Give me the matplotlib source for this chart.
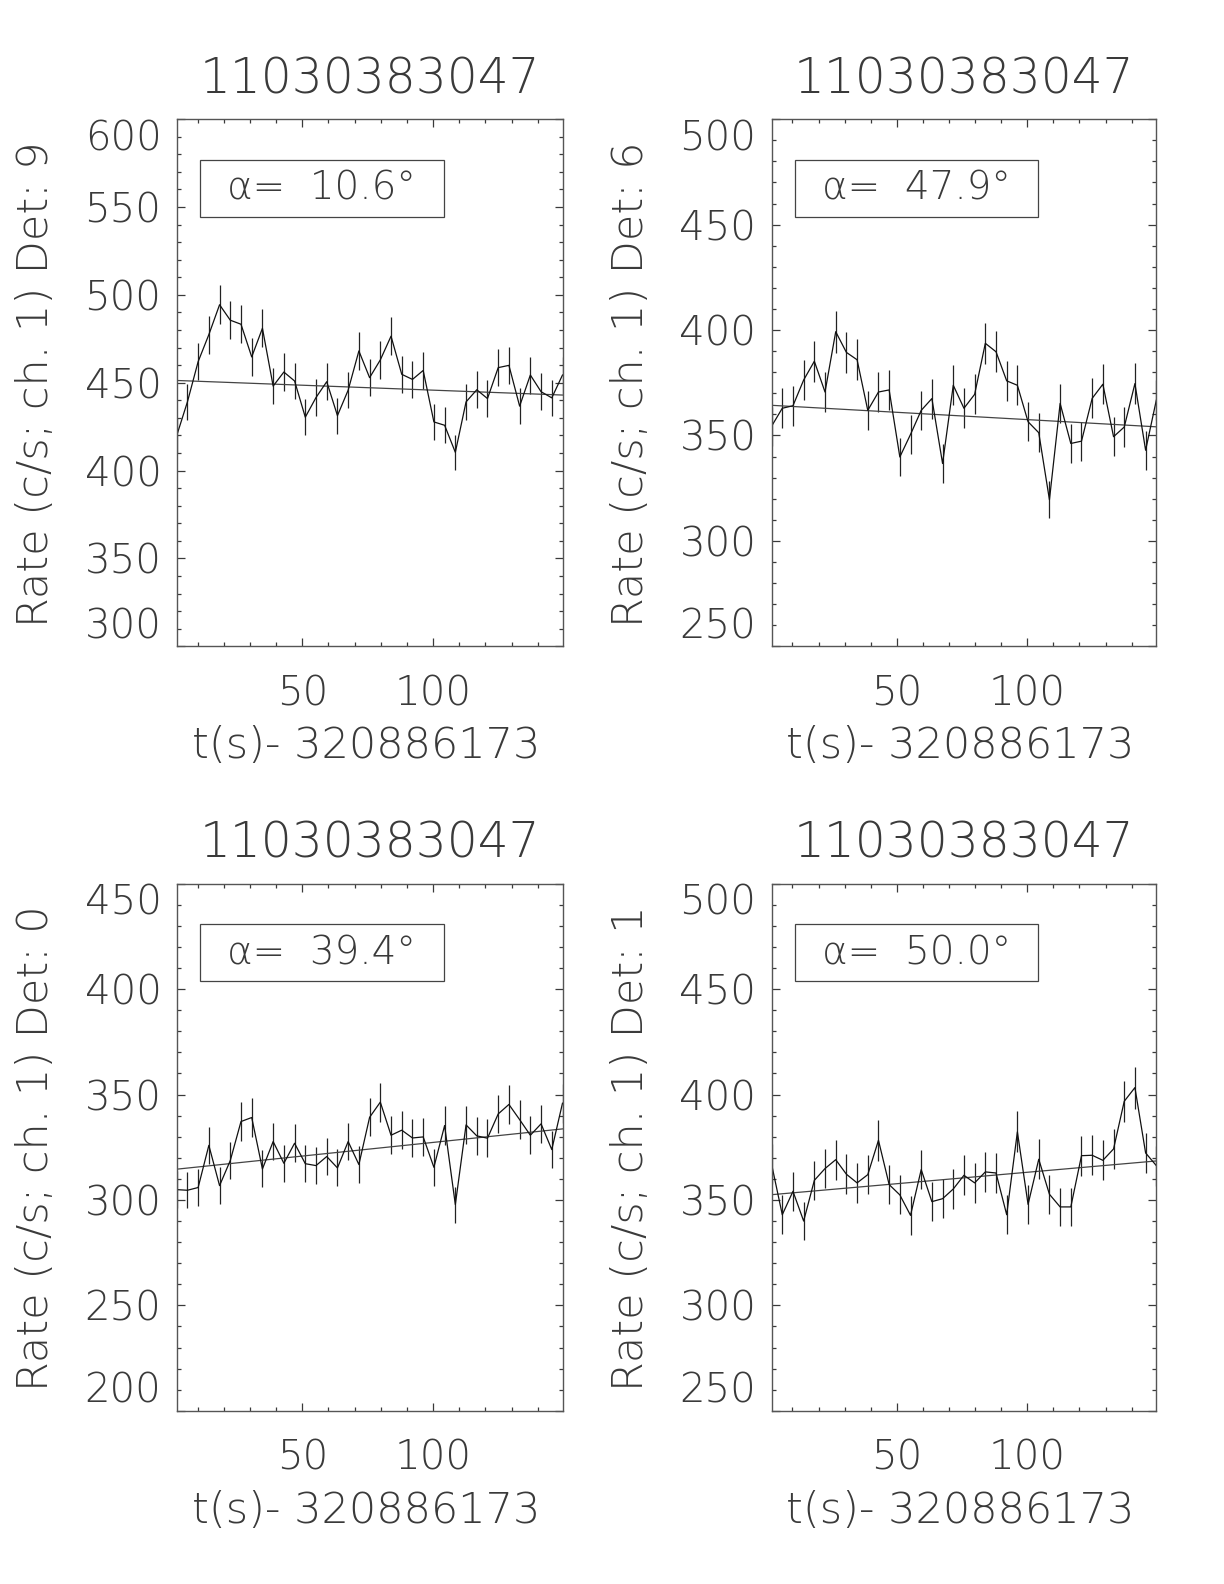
import numpy as np
import matplotlib
matplotlib.use("Agg")
import matplotlib.pyplot as plt
from matplotlib.patches import Rectangle
from matplotlib.ticker import MultipleLocator

# time bins in seconds after 320886173
T_START = 2.0
BIN_WIDTH = 4.096
N_BINS = 37

title = "11030383047"
xlabel = "t(s)- 320886173"

detectors = [9, 6, 0, 1]
alphas = [10.6, 47.9, 39.4, 50.0]
y_ranges = [(300, 600), (250, 500), (200, 450), (250, 500)]

rate_det9 = [419.9, 439.1, 462.0, 477.4, 494.4, 485.6, 483.3, 464.7, 481.0, 448.1,
             456.1, 451.0, 430.4, 441.6, 450.6, 431.3, 445.8, 468.1, 452.9, 463.0,
             476.5, 454.8, 451.9, 457.0, 427.7, 425.8, 410.4, 439.1, 446.0, 441.0,
             458.6, 459.9, 436.7, 454.4, 444.9, 441.4, 454.4]
rate_det6 = [354.4, 362.9, 364.1, 376.3, 385.2, 370.6, 399.2, 389.4, 385.9, 361.9,
             370.6, 371.6, 339.8, 350.5, 361.9, 367.5, 336.7, 373.8, 362.9, 369.5,
             393.7, 389.7, 375.9, 373.8, 356.5, 351.3, 319.5, 365.2, 346.2, 347.3,
             367.6, 374.3, 349.4, 354.0, 374.6, 343.0, 366.7]
rate_det0 = [304.9, 304.6, 305.9, 325.9, 306.8, 318.7, 337.2, 339.1, 314.7, 327.7,
             317.4, 326.9, 317.2, 316.3, 320.6, 315.2, 327.7, 316.8, 339.2, 346.4,
             330.7, 333.1, 329.4, 329.9, 315.5, 335.3, 297.8, 335.6, 330.4, 329.3,
             340.8, 345.3, 338.1, 330.7, 336.1, 323.9, 345.9]
rate_det1 = [366.9, 343.0, 354.1, 340.0, 359.3, 364.9, 369.1, 362.2, 358.1, 362.0,
             378.3, 357.3, 352.4, 342.7, 364.4, 349.2, 350.6, 355.2, 361.7, 358.1,
             363.3, 362.8, 343.0, 382.3, 347.9, 369.3, 352.7, 346.7, 346.7, 371.0,
             371.2, 368.8, 374.2, 396.8, 403.3, 372.3, 366.3]

# linear fit, value at first and last bin
fit_det9 = [451.3, 443.0]
fit_det6 = [364.3, 354.1]
fit_det0 = [314.6, 333.7]
fit_det1 = [352.5, 368.5]

rates = [rate_det9, rate_det6, rate_det0, rate_det1]
fits = [fit_det9, fit_det6, fit_det0, fit_det1]

INK = "#3a3a3a"
plt.rcParams["font.family"] = ["DejaVu Sans"]
plt.rcParams["font.weight"] = "light"

fig = plt.figure(figsize=(12.24, 15.84), dpi=100)

W, H = 1224.0, 1584.0
lefts = [176.7, 771.6]
widths = [385.8, 384.7]
bottoms = [646.3, 1410.8]
ax_h = 527.1

t = T_START + BIN_WIDTH * np.arange(N_BINS)

for i in range(4):
    row, col = divmod(i, 2)
    ax = fig.add_axes([lefts[col] / W, 1 - bottoms[row] / H, widths[col] / W, ax_h / H])
    rate = np.array(rates[i])
    err = np.sqrt(rate / BIN_WIDTH)

    ax.errorbar(t, rate, yerr=err, fmt="-", color="#111111", lw=0.9,
                elinewidth=0.9, ecolor="#222222", capsize=0)
    ax.plot([t[0], t[-1]], fits[i], color="#444444", lw=0.9)

    lo, hi = y_ranges[i]
    ax.set_xlim(t[0], t[-1])
    ax.set_ylim(lo, hi)
    ax.xaxis.set_major_locator(MultipleLocator(50))
    ax.xaxis.set_minor_locator(MultipleLocator(10))
    ax.set_yticks(np.arange(lo, hi + 1, 50))
    ax.yaxis.set_minor_locator(MultipleLocator(10))
    ax.tick_params(which="both", direction="in", top=True, right=True,
                   color=INK, width=0.9, labelcolor=INK)
    ax.tick_params(which="major", length=6)
    ax.tick_params(which="minor", length=3)
    ax.tick_params(axis="x", which="major", pad=20, labelsize=29)
    ax.tick_params(axis="y", which="major", pad=11, labelsize=29)
    ylabels = ax.get_yticklabels()
    ylabels[0].set_va("bottom")
    ylabels[-1].set_va("top")
    for sp in ax.spines.values():
        sp.set_color("#555555")
        sp.set_linewidth(1.0)

    ax.text(0.5, 1.049, title, transform=ax.transAxes, ha="center",
            va="baseline", fontsize=35, color=INK)
    ax.text(0.49, -0.2125, xlabel, transform=ax.transAxes, ha="center",
            va="baseline", fontsize=31, color=INK)
    ax.text(-0.367, 0.4976, "Rate (c/s; ch. 1) Det: %d" % detectors[i],
            transform=ax.transAxes, rotation=90, ha="center", va="center",
            fontsize=31, color=INK)

    ax.add_patch(Rectangle((0.060, 0.8145), 0.632, 0.1085, transform=ax.transAxes,
                           fill=False, edgecolor="#444444", lw=0.9))
    ax.text(0.376, 0.868, "α=  %.1f°" % alphas[i], transform=ax.transAxes,
            ha="center", va="center", fontsize=28, color=INK)

fig.savefig("out.png", dpi=100)
